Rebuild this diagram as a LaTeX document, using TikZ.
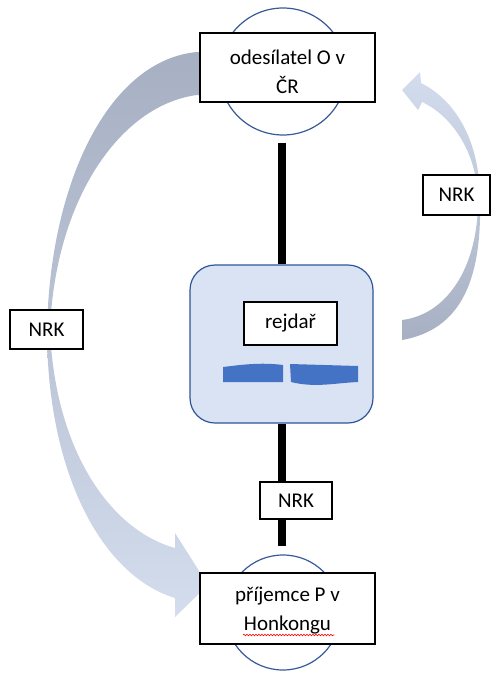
\documentclass[tikz,border=0pt]{standalone}
\usepackage{fontspec}
\setmainfont{Carlito}
\usetikzlibrary{decorations.pathmorphing}
\definecolor{circblue}{RGB}{55,90,155}
\definecolor{shipfill}{RGB}{218,227,243}
\definecolor{shipdraw}{RGB}{47,85,151}
\definecolor{hullblue}{RGB}{68,114,196}
\definecolor{arrdark}{RGB}{166,176,194}
\definecolor{arrlight}{RGB}{212,221,238}
\begin{document}
\begin{tikzpicture}[x=1pt,y=-1pt,
  box/.style={draw=black, line width=1.5pt, fill=white, inner sep=0pt,
    font=\fontsize{21}{29}\selectfont, align=center},
  ring/.style={circle, draw=circblue, line width=1.2pt, fill=white, inner sep=0pt},
  pole/.style={line width=8pt, black}]
\useasboundingbox (0,0) rectangle (491,680);

% curved arrows
\path[top color=arrdark, bottom color=arrlight, middle color=arrdark!55!arrlight]
  (215,52) -- (197,52) .. controls (110,60) and (50,180) .. (47,330)
  .. controls (47,470) and (100,575) .. (175,598) -- (175,617) -- (208,585)
  -- (175,533) -- (175,548) .. controls (110,530) and (55,450) .. (50,330)
  .. controls (55,200) and (120,105) .. (197,95) -- (215,95) -- cycle;
\path[top color=arrlight, bottom color=arrdark]
  (402,340) .. controls (458,330) and (482,285) .. (480,200)
  .. controls (480,140) and (455,100) .. (421,83) -- (420,72) -- (402,90)
  -- (418,110) -- (422,102) .. controls (450,115) and (477,150) .. (478,200)
  .. controls (478,270) and (445,315) .. (402,320) -- cycle;

% circles
\node[ring, minimum size=127pt] (c1) at (283,71.5) {};
\node[ring, minimum size=115pt] (c2) at (283,612.5) {};

% ship
\node[draw=shipdraw, fill=shipfill, line width=1.2pt, rounded corners=25pt,
  minimum width=183pt, minimum height=158pt, inner sep=0pt] (ship) at (281.5,344) {};
\draw[pole, shorten <=7pt] (c1.south -| ship.north) -- (ship.north);
\draw[pole, shorten >=8pt] (ship.south) -- (c2.north -| ship.south);
\node[box, minimum width=93pt, minimum height=43pt] (rejdar) at (290.5,323.5) {rejdař};
\fill[hullblue] (223,367) .. controls (240,365) and (260,362) .. (283,365) -- (283,382) -- (223,382) -- cycle;
\fill[hullblue] (290,364) -- (358,366) -- (358,382) .. controls (335,383) and (315,388) .. (291,382) -- cycle;

% boxes
\node[box, minimum width=175pt, minimum height=69pt] (sender) at (287.5,67.5) {\rule{0pt}{24pt}odesílatel O v\\ČR};
\node[box, minimum width=175pt, minimum height=71pt] (receiver) at (287.5,608.5) {\rule{0pt}{19pt}příjemce P v\\Honkongu};
\draw[red, line width=0.6pt, decorate, decoration={snake, amplitude=0.8pt, segment length=3pt}]
  (243,635) -- (334,635);

\node[box, minimum width=73pt, minimum height=39pt] (nrkL) at (46.5,329.5) {NRK};
\node[box, minimum width=67pt, minimum height=40pt] (nrkR) at (456.5,195) {NRK};
\node[box, minimum width=72pt, minimum height=37pt] (nrkM) at (296,500.5) {NRK};
\end{tikzpicture}
\end{document}
